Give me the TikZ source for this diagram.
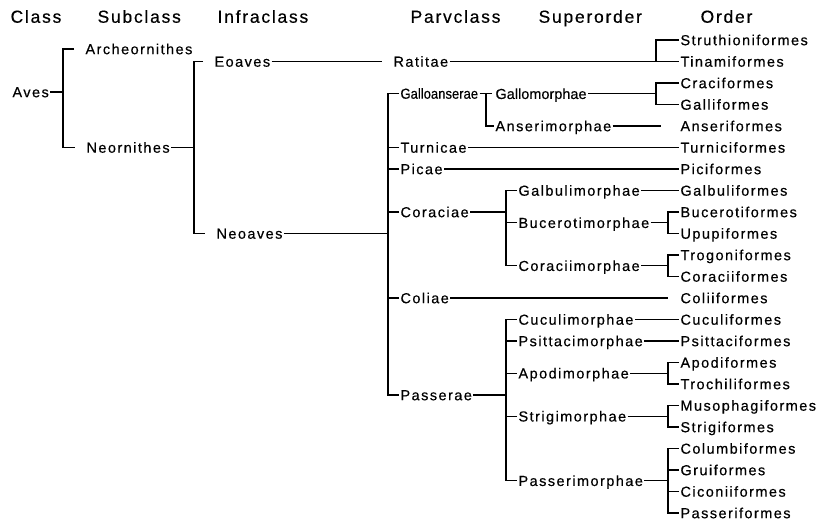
\documentclass[tikz,border=0pt]{standalone}
\usepackage{fontspec,graphicx}
\setmainfont{Liberation Sans}[LetterSpace=10,FakeBold=0.4]

\begin{document}
\begin{tikzpicture}[x=1pt,y=-1pt,line width=1.2pt,
		taxon/.style={anchor=west,inner sep=0pt,outer sep=1.5pt,text height=10.4pt,text depth=0pt,font=\fontsize{14.5}{16}\selectfont},
		tight/.style={taxon,font=\fontsize{14.5}{16}\selectfont\addfontfeatures{LetterSpace=0}},
		rank/.style={anchor=west,inner sep=0pt,text height=12.5pt,text depth=0pt,font=\fontsize{17.5}{20}\selectfont},
		gap/.style={shorten <=#1,shorten >=#1}]
	\useasboundingbox (0,0) rectangle (823,520);

	\foreach \x/\t in {10/Class,97/Subclass,217/Infraclass,410/Parvclass,538/Superorder,700/Order}
		\node[rank] (h\t) at (\x,16.5) {\t};

	\coordinate (kSub) at (63,0);
	\coordinate (kInf) at (194,0);
	\coordinate (kParv) at (388,0);
	\coordinate (kGal) at (486,0);
	\coordinate (kSup) at (506,0);
	\coordinate (kOrdA) at (656,0);
	\coordinate (kOrdB) at (668,0);

	\node[taxon] (aves) at (11,92) {Aves};
	\node[taxon] (archeo) at (84,49) {Archeornithes};
	\node[taxon] (neorn) at (85,147.5) {Neornithes};
	\node[taxon] (eoaves) at (213,61.5) {Eoaves};
	\node[taxon] (neoaves) at (215,233.5) {Neoaves};

	\node[taxon] (ratitae) at (392,61.5) {Ratitae};
	\node[tight] (galloans) at (399,93.5) {\scalebox{0.9}[1]{Galloanserae}};
	\foreach \n/\y/\t in {turnicae/147.5/Turnicae,picae/169/Picae,coraciae/212/Coraciae,coliae/298/Coliae,passerae/395/Passerae}
		\node[taxon] (\n) at (399,\y) {\t};

	\node[tight] (gallom) at (494,93.75) {Gallomorphae};
	\node[taxon] (anserim) at (494,126) {Anserimorphae};
	\foreach \n/\y/\t in {galbulim/190.5/Galbulimorphae,bucerom/222.75/Bucerotimorphae,coraciim/265.75/Coraciimorphae,cuculim/319.5/Cuculimorphae,psittacim/341/Psittacimorphae,apodim/373.25/Apodimorphae,strigim/416.25/Strigimorphae,passerim/480.75/Passerimorphae}
		\node[taxon] (\n) at (517,\y) {\t};

	\foreach \n/\t [count=\i from 0] in {struthio/Struthioniformes,tinami/Tinamiformes,craci/Craciformes,galli/Galliformes,anseri/Anseriformes,turnici/Turniciformes,pici/Piciformes,galbuli/Galbuliformes,bucero/Bucerotiformes,upupi/Upupiformes,trogoni/Trogoniformes,coracii/Coraciiformes,colii/Coliiformes,cuculi/Cuculiformes,psittaci/Psittaciformes,apodi/Apodiformes,trochili/Trochiliformes,musophagi/Musophagiformes,strigi/Strigiformes,columbi/Columbiformes,grui/Gruiformes,ciconii/Ciconiiformes,passeri/Passeriformes}
		\node[taxon] (\n) at (679,40+21.5*\i) {\t};

	\draw (aves) -- (aves -| kSub);
	\draw[gap=10pt] (archeo) -| (kSub |- neorn) -- (neorn);
	\draw (neorn) -- (neorn -| kInf);
	\draw[gap=10pt] (eoaves) -| (kInf |- neoaves) -- (neoaves);
	\draw[shorten >=10pt] (eoaves) -- (ratitae);
	\draw (neoaves) -- (neoaves -| kParv);

	\draw (ratitae) -- (tinami);
	\draw (struthio) -| (kOrdA |- tinami);

	\draw (galloans) -| (kParv |- passerae) -- (passerae);
	\foreach \n in {turnicae,picae,coraciae,coliae}
		\draw (\n) -- (\n -| kParv);

	\draw (galloans) -- (galloans -| kGal);
	\draw[shorten <=2pt] (gallom) -| (kGal |- anserim) -- (anserim);
	\draw (gallom) -- (gallom -| kOrdA);
	\draw (craci) -| (kOrdA |- galli) -- (galli);
	\draw[shorten >=18pt] (anserim) -- (anseri);
	\draw (turnicae) -- (turnici);
	\draw (picae) -- (pici);

	\draw (coraciae) -- (coraciae -| kSup);
	\draw (galbulim) -| (kSup |- coraciim) -- (coraciim);
	\draw (bucerom) -- (bucerom -| kSup);
	\draw (galbulim) -- (galbuli);
	\draw (bucerom) -- (bucerom -| kOrdB);
	\draw (bucero) -| (kOrdB |- upupi) -- (upupi);
	\draw (coraciim) -- (coraciim -| kOrdB);
	\draw (trogoni) -| (kOrdB |- coracii) -- (coracii);

	\draw[shorten >=11pt] (coliae) -- (colii);

	\draw (passerae) -- (passerae -| kSup);
	\draw (cuculim) -| (kSup |- passerim) -- (passerim);
	\foreach \n in {psittacim,apodim,strigim}
		\draw (\n) -- (\n -| kSup);
	\draw (cuculim) -- (cuculi);
	\draw (psittacim) -- (psittaci);
	\foreach \s/\a/\b in {apodim/apodi/trochili,strigim/musophagi/strigi,passerim/columbi/passeri} {
		\draw (\s) -- (\s -| kOrdB);
		\draw (\a) -| (kOrdB |- \b) -- (\b);
	}
	\foreach \n in {grui,ciconii}
		\draw (\n) -- (\n -| kOrdB);
\end{tikzpicture}
\end{document}
